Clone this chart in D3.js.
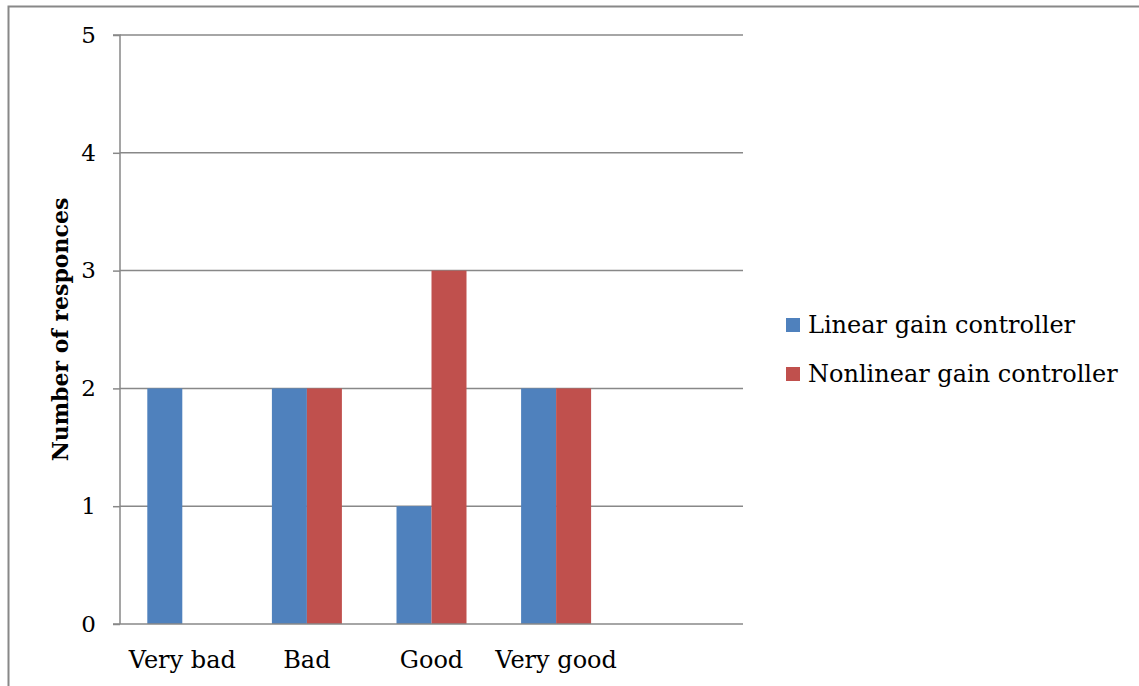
<!DOCTYPE html>
<html><head><meta charset="utf-8">
<script src="https://cdn.jsdelivr.net/npm/d3@7"></script>
<style>body{margin:0;background:#fff}svg{display:block}</style>
</head><body>
<script>
const categories = ["Very bad", "Bad", "Good", "Very good", ""];
const seriesNames = ["Linear gain controller", "Nonlinear gain controller"];
const linearValues = [2, 2, 1, 2, null];
const nonlinearValues = [0, 2, 3, 2, null];
const yTicks = [0, 1, 2, 3, 4, 5];
const colors = ["#4F81BD", "#C0504D"];

const W = 1139, H = 686;
const font = "'DejaVu Serif', serif";
const svg = d3.select("body").append("svg").attr("width", W).attr("height", H);

// outer border
svg.append("path").attr("d", "M8.5,700V6.5H1145").attr("fill", "none").attr("stroke", "#888").attr("stroke-width", 2);

const m = {l: 120, r: 743, t: 35, b: 624};
const x = d3.scaleBand().domain(categories.map((c, i) => i)).range([m.l, m.r]);
const xs = d3.scaleBand().domain([0, 1]).range([0, x.bandwidth()]).paddingOuter(0.78);
const y = d3.scaleLinear().domain([0, 5]).range([m.b, m.t]);

// gridlines
svg.append("g").selectAll("line").data(yTicks.filter(d => d > 0)).join("line")
  .attr("x1", m.l).attr("x2", m.r).attr("y1", d => y(d)).attr("y2", d => y(d))
  .attr("stroke", "#888").attr("stroke-width", 1.5);

// bars
const data = [linearValues, nonlinearValues];
data.forEach((vals, s) => {
  svg.append("g").selectAll("rect").data(vals.map((v, i) => ({v, i})).filter(d => d.v)).join("rect")
    .attr("x", d => x(d.i) + xs(s)).attr("width", xs.bandwidth())
    .attr("y", d => y(d.v)).attr("height", d => y(0) - y(d.v))
    .attr("fill", colors[s]);
});

// y axis
const yAxis = d3.axisLeft(y).tickValues(yTicks).tickSize(7).tickFormat(d3.format("d"));
const gy = svg.append("g").attr("transform", `translate(${m.l},0)`).call(yAxis);
gy.select(".domain").attr("stroke", "#888").attr("stroke-width", 1.5).attr("d", `M-7,${m.t}H0V${m.b}`);
gy.selectAll(".tick line").attr("stroke", "#888").attr("stroke-width", 1.5);
gy.selectAll(".tick text").attr("x", -24).attr("font-family", font).attr("font-size", 23).attr("fill", "#000");

// x axis
svg.append("line").attr("x1", m.l - 7).attr("x2", m.r).attr("y1", m.b).attr("y2", m.b)
  .attr("stroke", "#888").attr("stroke-width", 1.5);
svg.append("g").selectAll("text").data(categories.map((c, i) => ({c, i}))).join("text")
  .attr("x", d => x(d.i) + x.bandwidth() / 2).attr("y", 668)
  .attr("text-anchor", "middle").attr("font-family", font).attr("font-size", 24).text(d => d.c);

// y label
svg.append("text").attr("transform", `translate(68,${(m.t + m.b) / 2}) rotate(-90)`)
  .attr("text-anchor", "middle").attr("font-family", font).attr("font-size", 22).attr("font-weight", "bold")
  .text("Number of responces");

// legend
const lg = svg.append("g").selectAll("g").data(seriesNames).join("g")
  .attr("transform", (d, i) => `translate(786,${318 + i * 49})`);
lg.append("rect").attr("width", 14).attr("height", 14).attr("fill", (d, i) => colors[i]);
lg.append("text").attr("x", 22).attr("y", 15).attr("font-family", font).attr("font-size", 24).text(d => d);
</script>
</body></html>
